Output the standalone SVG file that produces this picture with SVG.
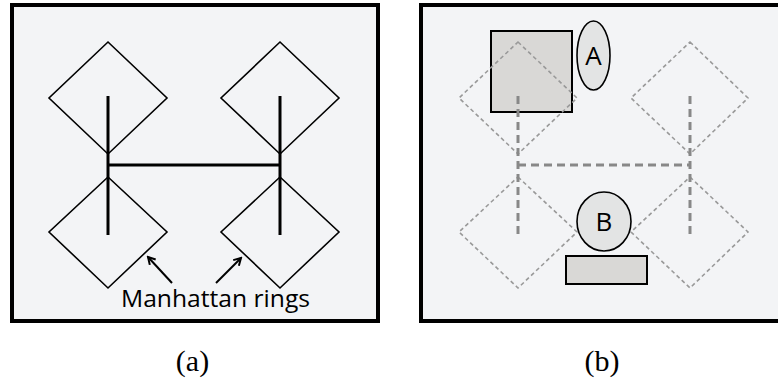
<svg xmlns="http://www.w3.org/2000/svg" width="778" height="379" viewBox="0 0 778 379">
<defs>
<style>
.frame{fill:#f3f4f6;stroke:#000;stroke-width:4}
.ring{fill:none;stroke:#000;stroke-width:1.6}
.wire{fill:none;stroke:#000;stroke-width:3}
.gring{fill:none;stroke:#999;stroke-width:1.6;stroke-dasharray:4 3}
.gwire{fill:none;stroke:#888;stroke-width:3;stroke-dasharray:8 5}
.arrow{fill:none;stroke:#000;stroke-width:2;marker-end:url(#ah)}
.lbl{font-family:"Open Sans","Liberation Sans",sans-serif;fill:#000}
.cap{font-family:"Liberation Serif",serif;font-size:30px;fill:#000;text-anchor:middle}
.blk{fill:#d9d8d6;stroke:#000;stroke-width:2}
.bub{fill:#e3e4e4;stroke:#000;stroke-width:1.6}
</style>
<marker id="ah" markerWidth="10" markerHeight="10" refX="8" refY="5" orient="auto" markerUnits="userSpaceOnUse">
<path d="M1,1 L8,5 L1,9" fill="none" stroke="#000" stroke-width="2"/>
</marker>
</defs>
<rect width="778" height="379" fill="#fff"/>
<g id="panel-a">
<rect class="frame" x="12" y="5" width="366" height="316"/>
<g id="ring-a1"><polygon class="ring" points="108,42 167,98 108,154 49,98"/></g>
<g id="ring-a2"><polygon class="ring" points="280,42 339,98 280,154 221,98"/></g>
<g id="ring-a3"><polygon class="ring" points="108,177 167,232 108,288 49,232"/></g>
<g id="ring-a4"><polygon class="ring" points="280,177 339,232 280,288 221,232"/></g>
<g id="bus-a">
<line class="wire" x1="108" y1="96" x2="108" y2="235"/>
<line class="wire" x1="280" y1="96" x2="280" y2="235"/>
<line class="wire" x1="108" y1="165" x2="280" y2="165"/>
</g>
<g id="label-a">
<line class="arrow" x1="172" y1="283" x2="148" y2="257"/>
<line class="arrow" x1="216" y1="283" x2="241" y2="258"/>
<text class="lbl" x="121" y="307" font-size="24" textLength="189" lengthAdjust="spacingAndGlyphs">Manhattan rings</text>
</g>
</g>
<g id="panel-b">
<rect class="frame" x="421" y="5" width="380" height="316"/>
<g id="block-a"><rect class="blk" x="491" y="31" width="81" height="81"/></g>
<g id="ring-b1"><polygon class="gring" points="518,42 577,98 518,154 459,98"/></g>
<g id="ring-b2"><polygon class="gring" points="690,42 748,98 690,154 631,98"/></g>
<g id="ring-b3"><polygon class="gring" points="518,177 577,232 518,288 459,232"/></g>
<g id="ring-b4"><polygon class="gring" points="690,177 748,232 690,288 631,232"/></g>
<g id="bus-b">
<line class="gwire" x1="518" y1="96" x2="518" y2="235"/>
<line class="gwire" x1="690" y1="96" x2="690" y2="235"/>
<line class="gwire" x1="518" y1="165" x2="690" y2="165"/>
</g>
<g id="bubble-a"><ellipse class="bub" cx="593.5" cy="55.5" rx="16.5" ry="34.5"/><text class="lbl" x="593.5" y="65" font-size="26" text-anchor="middle">A</text></g>
<g id="bubble-b"><ellipse class="bub" cx="604" cy="221.5" rx="27" ry="29.5"/><text class="lbl" x="604" y="231" font-size="26" text-anchor="middle">B</text></g>
<g id="block-b"><rect class="blk" x="566" y="256" width="81" height="28"/></g>
</g>
<text class="cap" x="192.5" y="371">(a)</text>
<text class="cap" x="602" y="371">(b)</text>
</svg>
